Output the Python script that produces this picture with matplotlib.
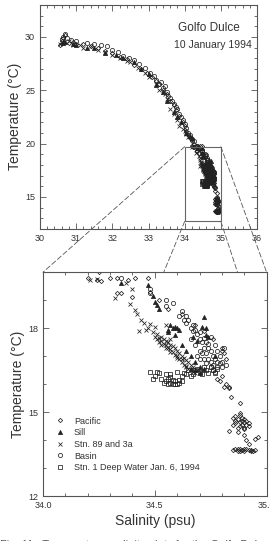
import matplotlib
matplotlib.use("Agg")
import matplotlib.pyplot as plt
from matplotlib.patches import Rectangle, ConnectionPatch
from matplotlib.ticker import MultipleLocator

plt.rcParams['font.family'] = ['Liberation Sans', 'DejaVu Sans']

# Pacific (open diamonds)
pac_s = [30.6, 30.7, 30.9, 31.2, 31.6, 32.0, 32.4, 32.8, 33.1, 33.3, 33.5, 33.7, 33.85, 34.0, 34.1, 34.2,
         30.55, 30.65, 30.8, 31.0, 31.4, 31.8, 32.2, 32.6, 32.95, 33.2, 33.4, 33.6, 33.75, 33.95, 34.05,
         34.15, 34.25,
         34.20, 34.24, 34.26, 34.30, 34.33, 34.38, 34.41, 34.47, 34.33, 34.35, 34.40, 34.48, 34.52, 34.56,
         34.62, 34.68, 34.72, 34.76, 34.80, 34.82, 34.80, 34.79, 34.81, 34.83, 34.84, 34.88, 34.88, 34.86,
         34.87, 34.89, 34.90, 34.91, 34.88, 34.90, 34.92, 34.86, 34.83, 34.87, 34.90, 34.95, 34.92, 34.86,
         34.87, 34.88, 34.89, 34.90, 34.91, 34.92, 34.93, 34.94,
         34.85, 34.86, 34.88, 34.89, 34.90, 34.91, 34.89, 34.87, 34.90, 34.92, 34.88, 34.85, 34.90, 34.88,
         34.87, 34.93, 34.95, 34.85, 34.96, 34.91, 34.82, 34.83, 34.78, 34.80, 34.81]
pac_t = [29.6, 30.2, 29.5, 29.3, 29.0, 28.5, 27.9, 27.0, 26.2, 25.6, 24.6, 23.6, 22.6, 21.6, 20.8, 20.2,
         29.2, 29.9, 29.4, 29.3, 29.1, 28.7, 28.1, 27.4, 26.6, 25.9, 25.0, 24.0, 23.1, 22.0, 21.2,
         20.5, 20.0,
         19.79, 19.72, 19.69, 19.78, 19.80, 19.72, 19.78, 19.78, 19.27, 19.27, 19.1, 19.3, 19.0, 18.7,
         18.5, 18.1, 17.9, 17.6, 17.2, 16.9, 16.3, 16.1, 15.89, 15.85, 15.56, 15.32, 14.96, 14.85,
         14.75, 14.7, 14.65, 14.55, 14.5, 14.45, 14.6, 14.6, 14.31, 14.3, 14.2, 14.04, 13.85, 13.68,
         13.62, 13.70, 13.65, 13.62, 13.68, 13.64, 13.66, 13.62,
         14.8, 14.7, 14.65, 14.8, 14.75, 14.7, 14.55, 14.45, 14.4, 14.5, 14.9, 14.55, 13.7, 13.6,
         13.68, 13.6, 13.65, 13.65, 14.1, 14.0, 16.0, 15.9, 16.2, 17.3, 17.1]

# Sill (filled triangles)
sill_s = [30.65, 31.0, 31.5, 32.1, 32.6, 33.0, 33.4, 33.7, 33.9, 34.2,
          30.7, 30.9, 31.3, 31.8, 32.3, 32.8, 33.2, 33.5, 33.8, 34.05, 34.15,
          34.35, 34.47, 34.51, 34.52, 34.56, 34.58, 34.60, 34.59, 34.67, 34.72, 34.73, 34.62, 34.64,
          34.66, 34.68, 34.70, 34.74, 34.77,
          34.57, 34.59, 34.61, 34.56, 34.69, 34.71, 34.73, 34.66, 34.68, 34.70, 34.72, 34.50, 34.49]
sill_t = [29.4, 29.2, 29.0, 28.3, 27.6, 26.5, 24.8, 23.0, 22.0, 20.5,
          29.5, 29.3, 29.0, 28.5, 28.0, 27.0, 25.5, 24.0, 22.5, 21.0, 20.7,
          19.6, 19.55, 18.84, 18.7, 17.95, 18.0, 18.0, 17.75, 17.7, 18.4, 18.0, 17.4, 17.2,
          17.0, 16.8, 16.6, 17.7, 17.0,
          18.1, 18.05, 17.95, 17.85, 17.55, 18.05, 17.75, 16.55, 16.5, 16.4, 16.55, 18.95, 19.15]

# Stn. 89 and 3a (crosses)
stn89_s = [30.55, 30.8, 31.1, 31.4, 31.8, 32.2, 32.5, 32.9, 33.2, 33.5, 33.6, 33.8, 33.95, 34.05,
           30.6, 30.9, 31.2, 31.6, 32.0, 32.4, 32.7, 33.0, 33.3, 33.45, 33.7, 33.85, 34.0, 34.1,
           34.21, 34.24, 34.37, 34.32, 34.40, 34.39, 34.41, 34.42, 34.44, 34.45, 34.43, 34.50, 34.48,
           34.51, 34.52, 34.53, 34.54, 34.55, 34.56, 34.57, 34.58, 34.59, 34.60, 34.61, 34.62, 34.63,
           34.64, 34.65, 34.66, 34.67, 34.68, 34.55, 34.57, 34.60, 34.63, 34.52, 34.50, 34.55, 34.57,
           34.53, 34.54, 34.56, 34.58, 34.59, 34.61, 34.62, 34.64, 34.65, 34.66, 34.67, 34.69, 34.70,
           34.51, 34.53, 34.55, 34.57, 34.60, 34.62, 34.64, 34.47, 34.46, 34.49]
stn89_t = [29.3, 29.6, 29.2, 29.1, 28.6, 28.0, 27.6, 26.6, 25.6, 24.2, 23.2, 22.2, 21.4, 20.9,
           29.5, 29.2, 29.0, 28.8, 28.3, 27.7, 27.1, 26.2, 25.0, 24.6, 22.8, 21.6, 21.2, 20.6,
           19.72, 19.75, 19.6, 19.08, 19.4, 18.85, 18.66, 18.5, 18.3, 18.2, 17.9, 18.05, 18.15,
           17.8, 17.65, 17.55, 17.45, 17.4, 17.3, 17.25, 17.15, 17.05, 16.95, 16.9, 16.8, 16.7,
           16.65, 16.55, 16.5, 16.45, 16.4, 17.55, 17.4, 17.2, 16.95, 17.5, 17.7, 18.1, 17.6,
           17.7, 17.6, 17.5, 17.35, 17.3, 17.1, 17.0, 16.85, 16.8, 16.7, 16.6, 16.5, 16.45,
           17.6, 17.4, 17.3, 17.15, 17.0, 16.9, 16.6, 18.0, 17.95, 17.85]

# Basin (open circles)
basin_s = [30.6, 30.7, 30.75, 31.3, 31.7, 32.0, 32.3, 32.6, 32.9, 33.2, 33.3, 33.4, 33.5, 33.6, 33.7,
           33.8, 33.9, 34.0, 34.1, 34.2, 34.35,
           30.65, 30.85, 31.0, 31.5, 31.85, 32.15, 32.45, 32.75, 33.05, 33.15, 33.35, 33.45, 33.55,
           33.65, 33.75, 33.85, 33.95, 34.05, 34.15, 34.25,
           34.48, 34.48, 34.55, 34.55, 34.58, 34.62, 34.61, 34.63, 34.64, 34.66, 34.67, 34.69, 34.70,
           34.71, 34.72, 34.73, 34.74, 34.75, 34.76, 34.78, 34.77, 34.75, 34.79, 34.80, 34.70, 34.68,
           34.72, 34.66, 34.74, 34.78, 34.76, 34.70,
           34.64, 34.65, 34.67, 34.68, 34.70, 34.72, 34.73, 34.74, 34.75, 34.76, 34.77, 34.78, 34.79,
           34.80, 34.71, 34.69, 34.73, 34.75, 34.77, 34.81, 34.82]
basin_t = [29.8, 30.3, 29.9, 29.4, 29.2, 28.8, 28.2, 27.8, 27.1, 26.0, 25.6, 25.2, 24.8, 24.3, 23.7,
           23.2, 22.5, 21.8, 21.0, 20.4, 19.8,
           30.0, 29.7, 29.6, 29.3, 29.1, 28.6, 28.0, 27.5, 26.6, 26.3, 25.8, 25.4, 24.5,
           24.0, 23.4, 22.8, 22.2, 21.5, 20.8, 20.2,
           19.4, 19.25, 19.0, 18.8, 18.9, 18.6, 18.45, 18.3, 18.2, 18.0, 17.9, 17.8, 17.6,
           17.5, 17.3, 17.1, 16.9, 16.8, 16.7, 16.6, 17.4, 17.7, 17.0, 16.8, 17.2, 17.4,
           16.9, 17.6, 17.3, 17.2, 16.5, 16.9,
           18.45, 18.3, 18.1, 17.95, 17.85, 17.65, 17.5, 17.45, 17.2, 17.0, 16.9, 16.8, 16.75,
           16.6, 17.1, 17.0, 16.75, 16.6, 16.45, 17.3, 16.7]

# Stn. 1 deep water Jan. 6, 1994 (open squares)
deep_s = [34.48, 34.50, 34.52, 34.53, 34.55, 34.56, 34.57, 34.58, 34.59, 34.60, 34.61, 34.62, 34.63,
          34.55, 34.57, 34.64, 34.66, 34.68, 34.70, 34.72, 34.74, 34.76, 34.78, 34.60, 34.54,
          34.49, 34.51, 34.56, 34.58, 34.59, 34.61, 34.62, 34.57, 34.65, 34.67, 34.69, 34.71, 34.73,
          34.75, 34.77]
deep_t = [16.45, 16.3, 16.4, 16.2, 16.1, 16.0, 16.05, 16.0, 16.1, 16.0, 16.15, 16.3, 16.4,
          16.35, 16.25, 16.35, 16.3, 16.5, 16.45, 16.6, 16.4, 16.5, 16.55, 16.45, 16.05,
          16.2, 16.45, 16.2, 16.15, 16.0, 16.05, 16.1, 16.35, 16.5, 16.35, 16.55, 16.35, 16.5,
          16.6, 16.4]

series = [
    (pac_s, pac_t, 'D', 'none', 2.2, 'Pacific'),
    (sill_s, sill_t, '^', '#222222', 3.0, 'Sill'),
    (stn89_s, stn89_t, 'x', 'none', 3.2, 'Stn. 89 and 3a'),
    (basin_s, basin_t, 'o', 'none', 3.0, 'Basin'),
    (deep_s, deep_t, 's', 'none', 2.6, 'Stn. 1 Deep Water Jan. 6, 1994'),
]

ink = '#333333'
fig = plt.figure(figsize=(2.7, 5.41), dpi=100)
ax1 = fig.add_axes([0.148, 0.577, 0.804, 0.414])
ax2 = fig.add_axes([0.159, 0.083, 0.8285, 0.4137])

for ax in (ax1, ax2):
    for s, t, m, fc, ms, lab in series:
        ax.plot(s, t, linestyle='none', marker=m, markersize=ms, markerfacecolor=fc,
                markeredgecolor='#222222', markeredgewidth=0.55, label=lab)
    for sp in ax.spines.values():
        sp.set_color('#555555')
        sp.set_linewidth(0.8)
    ax.tick_params(which='both', direction='in', top=True, right=True, colors='#555555',
                   labelcolor=ink, labelsize=6.5, width=0.6)
    ax.tick_params(which='major', length=4)
    ax.tick_params(which='minor', length=2)

ax1.set_xlim(30, 36)
ax1.set_ylim(12, 33)
ax1.xaxis.set_major_locator(MultipleLocator(1))
ax1.xaxis.set_minor_locator(MultipleLocator(0.2))
ax1.yaxis.set_major_locator(MultipleLocator(5))
ax1.yaxis.set_minor_locator(MultipleLocator(1))
ax1.set_ylabel('Temperature (°C)', fontsize=10, color=ink, labelpad=2)
ax1.text(0.779, 0.897, 'Golfo Dulce', transform=ax1.transAxes, ha='center', va='center',
         fontsize=8.5, color=ink)
ax1.text(0.797, 0.821, '10 January 1994', transform=ax1.transAxes, ha='center', va='center',
         fontsize=7.5, color=ink)

box = Rectangle((34, 12.7), 1, 7.0, fill=False, edgecolor='#666666', linewidth=0.8, zorder=5)
ax1.add_patch(box)

ax2.set_xlim(34, 35)
ax2.set_ylim(12, 20)
ax2.xaxis.set_major_locator(MultipleLocator(0.5))
ax2.xaxis.set_minor_locator(MultipleLocator(0.1))
ax2.yaxis.set_major_locator(MultipleLocator(3))
ax2.yaxis.set_minor_locator(MultipleLocator(1))
ax2.xaxis.set_major_formatter(lambda v, p: f'{v:.1f}')
ax2.set_ylabel('Temperature (°C)', fontsize=10, color=ink, labelpad=2)
ax2.set_xlabel('Salinity (psu)', fontsize=10, color=ink, labelpad=3)
ax2.legend(loc='lower left', bbox_to_anchor=(0.03, 0.09), frameon=False, fontsize=6.5,
           handletextpad=0.8, labelspacing=0.3, borderaxespad=0, handlelength=1.5,
           labelcolor=ink)

# dashed lines from the box in the top panel to the lower panel
links = [((34, 19.7), (34.0, 20)), ((34, 12.7), (34.54, 20)),
         ((35, 12.7), (34.87, 20)), ((35, 19.7), (35.0, 20))]
for a, b in links:
    cp = ConnectionPatch(xyA=a, coordsA=ax1.transData, xyB=b, coordsB=ax2.transData,
                         color='#555555', linewidth=0.6, linestyle=(0, (6, 3)))
    fig.add_artist(cp)

fig.text(0.0, 0.002, 'Fig. 11.  Temperature–salinity plots for the Golfo Dulce',
         ha='left', va='top', fontsize=8, color='#555555')

fig.savefig('out.png', dpi=100)
